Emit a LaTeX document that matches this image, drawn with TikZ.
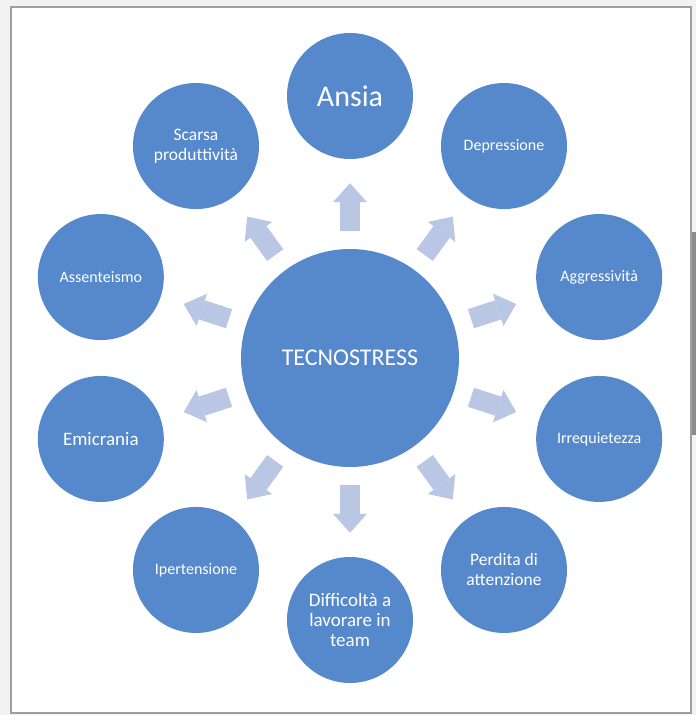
\documentclass[tikz,border=0pt]{standalone}
\usepackage{fontspec}
\setmainfont{Carlito}
\usepackage{tikz}
\usetikzlibrary{arrows.meta, positioning}
\usepackage{xcolor}
\definecolor{bubbleblue}{RGB}{86,136,204}
\definecolor{arrowblue}{RGB}{185,199,228}
\definecolor{framegray}{RGB}{163,158,158}
\definecolor{pagegray}{RGB}{242,242,242}
\definecolor{bargray}{RGB}{140,140,140}
\tikzstyle{bubble} = [circle, minimum size=126pt, inner sep=0pt, fill=bubbleblue, text=white, align=center]
\tikzstyle{hub} = [circle, minimum size=218pt, inner sep=0pt, fill=bubbleblue, text=white, align=center]
\tikzstyle{blockarrow} = [draw=arrowblue, line width=20pt, -{Triangle[width=34pt, length=19pt, line width=0pt, fill=arrowblue]}, shorten <=18pt, shorten >=24pt]

\begin{document}
\begin{tikzpicture}
  % Page and frame
  \useasboundingbox (-350pt,-357pt) rectangle (346pt,358pt);
  \fill[pagegray] (-350pt,-357pt) rectangle (346pt,358pt);
  \draw[framegray, line width=2pt, fill=white] (-339pt,-355pt) rectangle (341pt,351pt);
  \fill[bargray] (342pt,-77pt) rectangle (346pt,126pt);

  % Central circle
  \node[hub, font=\fontsize{24}{28}\selectfont] (tecno) at (0,0) {TECNOSTRESS};

  % Effects
  \node[bubble, font=\fontsize{30}{36}\selectfont] (ansia) at (90:262pt) {Ansia};
  \node[bubble, font=\fontsize{16}{19}\selectfont] (depr) at (54:262pt) {Depressione};
  \node[bubble, font=\fontsize{16}{19}\selectfont] (aggr) at (18:262pt) {Aggressività};
  \node[bubble, font=\fontsize{16}{19}\selectfont] (irreq) at (-18:262pt) {Irrequietezza};
  \node[bubble, font=\fontsize{17.5}{20}\selectfont] (perdita) at (-54:262pt) {Perdita di\\attenzione};
  \node[bubble, font=\fontsize{19}{20}\selectfont] (team) at (-90:262pt) {Difficoltà a\\lavorare in\\team};
  \node[bubble, font=\fontsize{16}{19}\selectfont] (iper) at (-126:262pt) {Ipertensione};
  \node[bubble, font=\fontsize{19}{22}\selectfont] (emic) at (-162:262pt) {Emicrania};
  \node[bubble, font=\fontsize{16}{19}\selectfont] (assent) at (162:262pt) {Assenteismo};
  \node[bubble, font=\fontsize{17.5}{20}\selectfont] (scarsa) at (126:262pt) {Scarsa\\produt\kern0pt tività};

  % Block arrows
  \draw[blockarrow] (tecno) -- (ansia);
  \draw[blockarrow] (tecno) -- (depr);
  \draw[blockarrow] (tecno) -- (aggr);
  \draw[blockarrow] (tecno) -- (irreq);
  \draw[blockarrow] (tecno) -- (perdita);
  \draw[blockarrow] (tecno) -- (team);
  \draw[blockarrow] (tecno) -- (iper);
  \draw[blockarrow] (tecno) -- (emic);
  \draw[blockarrow] (tecno) -- (assent);
  \draw[blockarrow] (tecno) -- (scarsa);
\end{tikzpicture}
\end{document}
